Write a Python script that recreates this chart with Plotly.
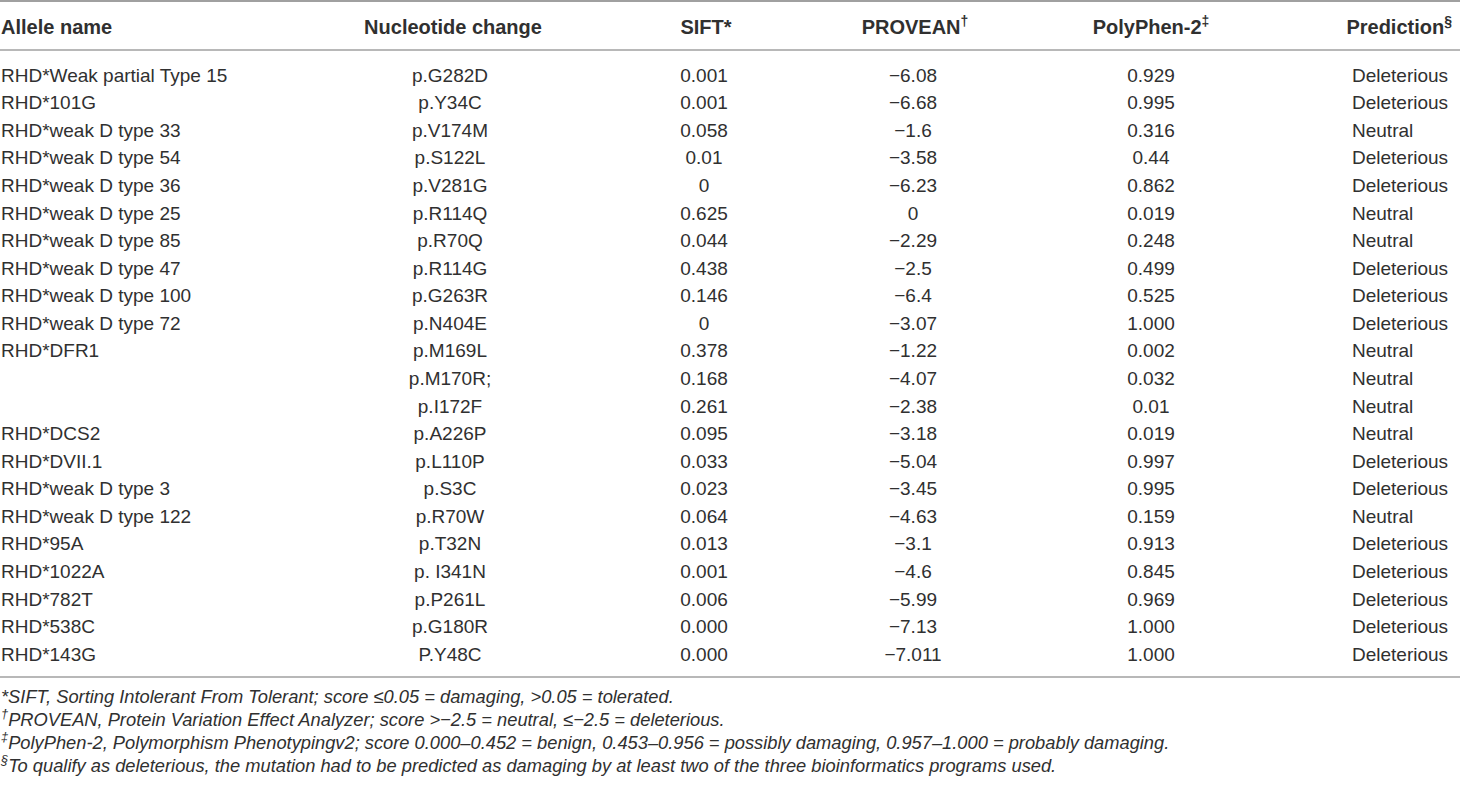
import plotly.graph_objects as go

# table content
allele_names = [
    "RHD*Weak partial Type 15", "RHD*101G", "RHD*weak D type 33", "RHD*weak D type 54",
    "RHD*weak D type 36", "RHD*weak D type 25", "RHD*weak D type 85", "RHD*weak D type 47",
    "RHD*weak D type 100", "RHD*weak D type 72", "RHD*DFR1", "", "",
    "RHD*DCS2", "RHD*DVII.1", "RHD*weak D type 3", "RHD*weak D type 122", "RHD*95A",
    "RHD*1022A", "RHD*782T", "RHD*538C", "RHD*143G",
]
nucleotide_changes = [
    "p.G282D", "p.Y34C", "p.V174M", "p.S122L", "p.V281G", "p.R114Q", "p.R70Q", "p.R114G",
    "p.G263R", "p.N404E", "p.M169L", "p.M170R;", "p.I172F", "p.A226P", "p.L110P", "p.S3C",
    "p.R70W", "p.T32N", "p. I341N", "p.P261L", "p.G180R", "P.Y48C",
]
sift = [
    "0.001", "0.001", "0.058", "0.01", "0", "0.625", "0.044", "0.438", "0.146", "0",
    "0.378", "0.168", "0.261", "0.095", "0.033", "0.023", "0.064", "0.013", "0.001",
    "0.006", "0.000", "0.000",
]
provean = [
    "\u22126.08", "\u22126.68", "\u22121.6", "\u22123.58", "\u22126.23", "0", "\u22122.29",
    "\u22122.5", "\u22126.4", "\u22123.07", "\u22121.22", "\u22124.07", "\u22122.38",
    "\u22123.18", "\u22125.04", "\u22123.45", "\u22124.63", "\u22123.1", "\u22124.6",
    "\u22125.99", "\u22127.13", "\u22127.011",
]
polyphen = [
    "0.929", "0.995", "0.316", "0.44", "0.862", "0.019", "0.248", "0.499", "0.525", "1.000",
    "0.002", "0.032", "0.01", "0.019", "0.997", "0.995", "0.159", "0.913", "0.845", "0.969",
    "1.000", "1.000",
]
prediction = [
    "Deleterious", "Deleterious", "Neutral", "Deleterious", "Deleterious", "Neutral",
    "Neutral", "Deleterious", "Deleterious", "Deleterious", "Neutral", "Neutral", "Neutral",
    "Neutral", "Deleterious", "Deleterious", "Neutral", "Deleterious", "Deleterious",
    "Deleterious", "Deleterious", "Deleterious",
]
headers = [
    "Allele name", "Nucleotide change", "SIFT*", "PROVEAN<sup>\u2020</sup>",
    "PolyPhen-2<sup>\u2021</sup>", "Prediction<sup>\u00a7</sup>",
]
footnotes = [
    "*SIFT, Sorting Intolerant From Tolerant; score \u22640.05 = damaging, >0.05 = tolerated.",
    "<sup>\u2020</sup>PROVEAN, Protein Variation Effect Analyzer; score >\u22122.5 = neutral, \u2264\u22122.5 = deleterious.",
    "<sup>\u2021</sup>PolyPhen-2, Polymorphism Phenotypingv2; score 0.000\u20130.452 = benign, "
    "0.453\u20130.956 = possibly damaging, 0.957\u20131.000 = probably damaging.",
    "<sup>\u00a7</sup>To qualify as deleterious, the mutation had to be predicted as damaging "
    "by at least two of the three bioinformatics programs used.",
]

FONT = "Liberation Sans"
TXT = "#303030"
RULE = "#a0a0a0"

row_y = [77 + i * 27.57 for i in range(len(allele_names))]
header_y = 29

# (x, textposition) per column
columns = [
    (allele_names, 1, "middle right"),
    (nucleotide_changes, 450, "middle center"),
    (sift, 704, "middle center"),
    (provean, 913, "middle center"),
    (polyphen, 1151, "middle center"),
    (prediction, 1352, "middle right"),
]
header_pos = [
    (1, "middle right"), (453, "middle center"), (706, "middle center"),
    (915, "middle center"), (1151, "middle center"), (1452, "middle left"),
]

fig = go.Figure()
for values, x, pos in columns:
    fig.add_trace(
        go.Scatter(
            x=[x] * len(values),
            y=row_y,
            mode="text",
            text=values,
            textposition=pos,
            textfont=dict(family=FONT, size=19, color=TXT),
            hoverinfo="skip",
            cliponaxis=False,
        )
    )

for label, (x, pos) in zip(headers, header_pos):
    fig.add_trace(
        go.Scatter(
            x=[x],
            y=[header_y],
            mode="text",
            text=[f"<b>{label}</b>"],
            textposition=pos,
            textfont=dict(family=FONT, size=20, color=TXT),
            hoverinfo="skip",
            cliponaxis=False,
        )
    )

fig.add_trace(
    go.Scatter(
        x=[1] * len(footnotes),
        y=[698 + i * 23 for i in range(len(footnotes))],
        mode="text",
        text=[f"<i>{f}</i>" for f in footnotes],
        textposition="middle right",
        textfont=dict(family=FONT, size=18.3, color=TXT),
        hoverinfo="skip",
        cliponaxis=False,
    )
)

for y, w in [(1, 2), (50, 1.5), (677, 1.5)]:
    fig.add_shape(type="line", x0=0, x1=1460, y0=y, y1=y, line=dict(color=RULE, width=w))

fig.update_layout(
    width=1460,
    height=786,
    margin=dict(l=0, r=0, t=0, b=0),
    paper_bgcolor="white",
    plot_bgcolor="white",
    showlegend=False,
    xaxis=dict(range=[0, 1460], visible=False, fixedrange=True),
    yaxis=dict(range=[786, 0], visible=False, fixedrange=True),
)

# drop the page's default body margin so the figure sits at the window origin
fig.write_html(
    "out.html",
    config={"displayModeBar": False},
    post_script="document.body.style.margin='0';",
)
